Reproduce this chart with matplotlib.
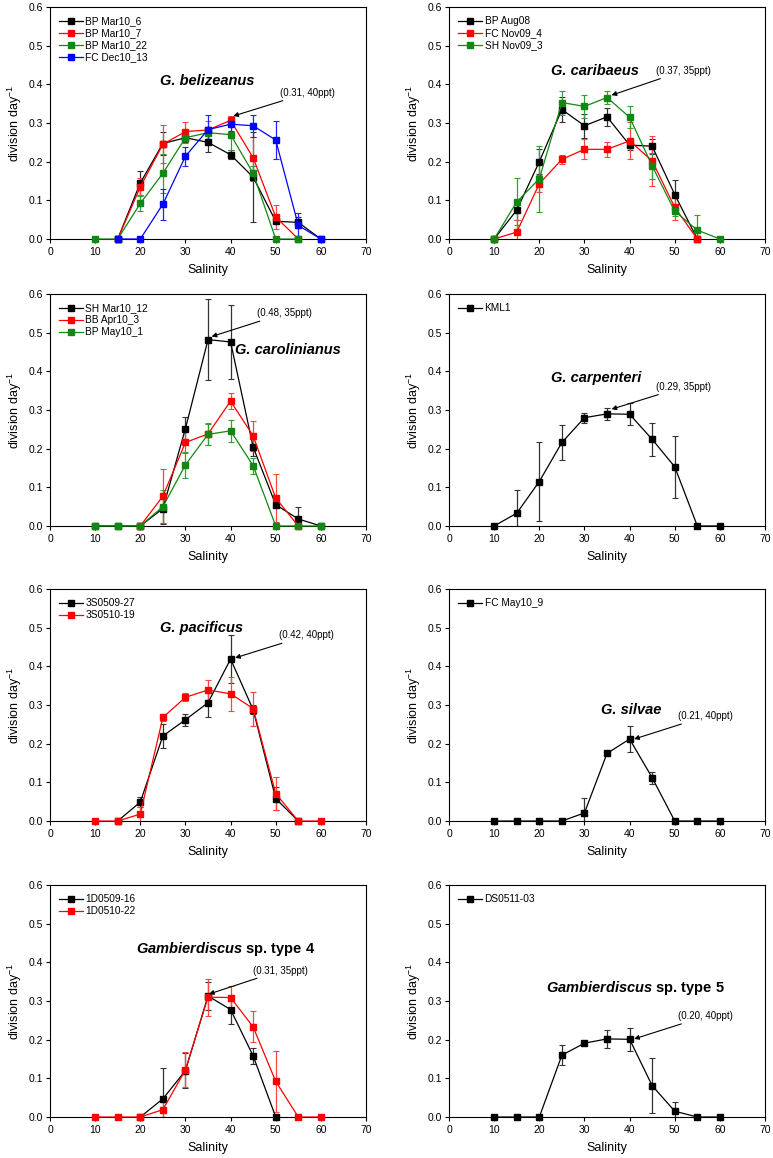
import matplotlib
matplotlib.use('Agg')
import matplotlib.pyplot as plt
import numpy as np

plt.rcParams['font.family'] = ['Liberation Sans', 'DejaVu Sans']
plt.rcParams['mathtext.fontset'] = 'custom'
plt.rcParams['mathtext.rm'] = 'Liberation Sans'
plt.rcParams['mathtext.it'] = 'Liberation Sans:italic'
plt.rcParams['mathtext.bf'] = 'Liberation Sans:bold'
plt.rcParams['mathtext.bfit'] = 'Liberation Sans:bold:italic'

nan = np.nan
salinity = [10, 15, 20, 25, 30, 35, 40, 45, 50, 55, 60]

# G. belizeanus
bel_names = ['BP Mar10_6', 'BP Mar10_7', 'BP Mar10_22', 'FC Dec10_13']
bel_vals = [
    [nan, 0, 0.145, 0.247, 0.262, 0.250, 0.218, 0.160, 0.046, 0.043, 0],
    [nan, 0, 0.135, 0.245, 0.278, 0.282, 0.307, 0.210, 0.057, 0, nan],
    [0, 0, 0.092, 0.170, 0.262, 0.275, 0.270, 0.170, 0, 0, nan],
    [nan, 0, 0, 0.090, 0.214, 0.283, 0.297, 0.293, 0.256, 0.035, 0],
]
bel_errs = [
    [0, 0, 0.031, 0.029, 0.012, 0.024, 0.012, 0.117, 0.004, 0.015, 0],
    [0, 0, 0.022, 0.049, 0.024, 0.023, 0.011, 0.055, 0.030, 0, 0],
    [0, 0, 0.020, 0.051, 0.013, 0.015, 0.040, 0.020, 0, 0, 0],
    [0, 0, 0, 0.040, 0.024, 0.037, 0.018, 0.029, 0.049, 0.033, 0],
]

# G. caribaeus
car_names = ['BP Aug08', 'FC Nov09_4', 'SH Nov09_3']
car_vals = [
    [0, 0.075, 0.200, 0.335, 0.293, 0.316, 0.243, 0.240, 0.115, 0, nan],
    [0, 0.018, 0.143, 0.206, 0.232, 0.232, 0.254, 0.202, 0.082, 0, nan],
    [0, 0.096, 0.156, 0.353, 0.343, 0.366, 0.315, 0.189, 0.072, 0.023, 0],
]
car_errs = [
    [0, 0.025, 0.033, 0.033, 0.031, 0.024, 0.013, 0.020, 0.037, 0, 0],
    [0, 0.030, 0.022, 0.011, 0.026, 0.019, 0.048, 0.065, 0.034, 0, 0],
    [0, 0.061, 0.085, 0.031, 0.030, 0.018, 0.028, 0.034, 0.013, 0.040, 0],
]

# G. carolinianus
crl_names = ['SH Mar10_12', 'BB Apr10_3', 'BP May10_1']
crl_vals = [
    [0, 0, 0, 0.045, 0.252, 0.482, 0.476, 0.204, 0.055, 0.018, 0],
    [nan, nan, 0, 0.077, 0.216, 0.238, 0.323, 0.233, 0.072, 0, nan],
    [0, 0, 0, 0.050, 0.158, 0.237, 0.246, 0.156, 0, 0, 0],
]
crl_errs = [
    [0, 0, 0, 0.040, 0.030, 0.104, 0.096, 0.024, 0.004, 0.032, 0],
    [0, 0, 0, 0.070, 0.026, 0.028, 0.020, 0.039, 0.063, 0, 0],
    [0, 0, 0, 0.042, 0.034, 0.027, 0.028, 0.021, 0, 0, 0],
]

# G. carpenteri
cpt_names = ['KML1']
cpt_vals = [[0, 0.033, 0.115, 0.216, 0.280, 0.290, 0.289, 0.224, 0.153, 0, 0]]
cpt_errs = [[0, 0.059, 0.101, 0.046, 0.013, 0.015, 0.029, 0.042, 0.080, 0, 0]]

# G. pacificus
pac_names = ['3S0509-27', '3S0510-19']
pac_vals = [
    [nan, 0, 0.049, 0.220, 0.262, 0.306, 0.419, 0.288, 0.058, 0, nan],
    [0, 0, 0.018, 0.268, 0.320, 0.339, 0.329, 0.291, 0.071, 0, 0],
]
pac_errs = [
    [0, 0, 0.014, 0.032, 0.016, 0.038, 0.061, 0.012, 0.030, 0, 0],
    [0, 0, 0.018, 0.010, 0.010, 0.027, 0.044, 0.044, 0.042, 0, 0],
]

# G. silvae
sil_names = ['FC May10_9']
sil_vals = [[0, 0, 0, 0, 0.021, 0.175, 0.212, 0.112, 0, 0, 0]]
sil_errs = [[0, 0, 0, 0, 0.039, 0.007, 0.033, 0.015, 0, 0, 0]]

# Gambierdiscus sp. type 4
t4_names = ['1D0509-16', '1D0510-22']
t4_vals = [
    [nan, nan, 0, 0.047, 0.120, 0.313, 0.278, 0.158, 0, nan, nan],
    [0, 0, 0, 0.019, 0.122, 0.310, 0.309, 0.233, 0.092, 0, 0],
]
t4_errs = [
    [0, 0, 0, 0.080, 0.045, 0.035, 0.038, 0.020, 0, 0, 0],
    [0, 0, 0, 0.021, 0.045, 0.048, 0.029, 0.040, 0.079, 0, 0],
]

# Gambierdiscus sp. type 5
t5_names = ['DS0511-03']
t5_vals = [[0, 0, 0, 0.160, 0.191, 0.202, 0.201, 0.081, 0.015, 0, 0]]
t5_errs = [[0, 0, 0, 0.026, 0.005, 0.024, 0.029, 0.071, 0.025, 0, 0]]

colors = ['black', '#ff0000', '#118811', '#0000ff']
err_colors = ['#333333', '#ff4444', '#33a033', '#2222ff']

panels = [
    (bel_names, bel_vals, bel_errs, 'G. belizeanus', (34.9, 0.41),
     '(0.31, 40ppt)', (40.6, 0.318), (51, 0.365)),
    (car_names, car_vals, car_errs, 'G. caribaeus', (32.3, 0.435),
     '(0.37, 35ppt)', (36, 0.372), (45.8, 0.422)),
    (crl_names, crl_vals, crl_errs, 'G. carolinianus', (52.6, 0.455),
     '(0.48, 35ppt)', (35.8, 0.49), (45.8, 0.537)),
    (cpt_names, cpt_vals, cpt_errs, 'G. carpenteri', (32.6, 0.383),
     '(0.29, 35ppt)', (36, 0.302), (45.8, 0.347)),
    (pac_names, pac_vals, pac_errs, 'G. pacificus', (33.5, 0.50),
     '(0.42, 40ppt)', (41, 0.422), (50.8, 0.467)),
    (sil_names, sil_vals, sil_errs, 'G. silvae', (40.3, 0.288),
     '(0.21, 40ppt)', (41, 0.212), (50.8, 0.258)),
    (t4_names, t4_vals, t4_errs, r'$\mathbfit{Gambierdiscus}$ sp. type 4', (38.9, 0.435),
     '(0.31, 35ppt)', (35.2, 0.318), (45, 0.366)),
    (t5_names, t5_vals, t5_errs, r'$\mathbfit{Gambierdiscus}$ sp. type 5', (41.3, 0.335),
     '(0.20, 40ppt)', (41, 0.202), (50.8, 0.248)),
]

fig = plt.figure(figsize=(7.73, 11.58), dpi=100)
lefts = [0.0647, 0.5809]
bottoms = [0.7936, 0.5458, 0.2910, 0.0354]

for i, (names, vals, errs, title, tpos, note, head, npos) in enumerate(panels):
    ax = fig.add_axes([lefts[i % 2], bottoms[i // 2], 0.4088, 0.2003])
    for j, name in enumerate(names):
        v = np.array(vals[j], dtype=float)
        e = np.array(errs[j], dtype=float)
        ok = ~np.isnan(v)
        x = np.array(salinity)[ok]
        lo = np.minimum(e[ok], v[ok])
        ax.errorbar(x, v[ok], yerr=[lo, e[ok]], fmt='none', ecolor=err_colors[j],
                    elinewidth=0.9, capsize=2.2, capthick=0.8, zorder=2)
        ax.plot(x, v[ok], '-s', color=colors[j], lw=0.9, ms=4.5, label=name,
                clip_on=False, zorder=3)
    ax.set_xlim(0, 70)
    ax.set_ylim(0, 0.6)
    ax.set_xticks(range(0, 71, 10))
    ax.set_yticks(np.arange(0, 0.61, 0.1))
    ax.yaxis.set_major_formatter(matplotlib.ticker.FormatStrFormatter('%.1f'))
    ax.tick_params(direction='out', length=3, width=0.8, labelsize=7.5, pad=2)
    ax.tick_params(axis='x', pad=3)
    for s in ax.spines.values():
        s.set_linewidth(0.8)
    ax.set_xlabel('Salinity', fontsize=9, labelpad=5)
    ax.set_ylabel('division day$^{-1}$', fontsize=9, labelpad=3)
    ax.legend(loc='upper left', frameon=False, fontsize=7.3, handlelength=2.4,
              handletextpad=0.2, labelspacing=0.2, borderaxespad=0.6,
              borderpad=0.3)
    if title.startswith('$'):
        ax.text(tpos[0], tpos[1], title, fontsize=10.5, fontweight='bold',
                ha='center', va='center')
    else:
        ax.text(tpos[0], tpos[1], title, fontsize=10.5, fontweight='bold',
                fontstyle='italic', ha='center', va='center')
    ax.annotate(note, xy=head, xytext=npos, fontsize=7, ha='left', va='bottom',
                arrowprops=dict(arrowstyle='-|>', color='black', lw=0.8,
                                mutation_scale=7, shrinkA=0, shrinkB=0))

fig.savefig('out.png', dpi=100)
